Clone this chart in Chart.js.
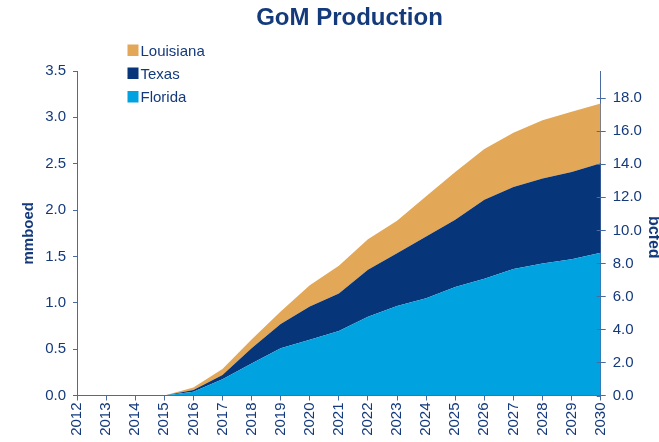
<!DOCTYPE html>
<html>
<head>
<meta charset="utf-8">
<title>GoM Production</title>
<script src="https://cdn.jsdelivr.net/npm/chart.js@4/dist/chart.umd.min.js"></script>
<style>
  html, body { margin: 0; padding: 0; background: #ffffff; }
  #wrap { position: relative; width: 659px; height: 442px; }
  canvas { display: block; }
</style>
</head>
<body>
<div id="wrap"><canvas id="chart" width="659" height="442"></canvas></div>
<script>
// Production outlook by source area, mmboed
const years = ['2012','2013','2014','2015','2016','2017','2018','2019','2020','2021',
               '2022','2023','2024','2025','2026','2027','2028','2029','2030'];
const florida   = [0, 0, 0, 0, 0.04, 0.175, 0.345, 0.51, 0.60, 0.695, 0.85, 0.965, 1.05, 1.17, 1.26, 1.365, 1.425, 1.47, 1.54];
const texas     = [0, 0, 0, 0, 0.02, 0.045, 0.165, 0.26, 0.36, 0.405, 0.505, 0.57, 0.665, 0.725, 0.85, 0.885, 0.915, 0.94, 0.965];
const louisiana = [0, 0, 0, 0, 0.025, 0.065, 0.095, 0.135, 0.23, 0.30, 0.33, 0.35, 0.435, 0.515, 0.55, 0.585, 0.63, 0.65, 0.645];

// Axis settings
const leftMax = 3.5;
const leftStep = 0.5;
const gasPerOil = 5.615;           // bcfed per mmboed
const rightStep = 2;
const rightLastTick = 18;

const NAVY = '#143a7c';
const AXIS = '#4a6aa2';
const COLORS = { Louisiana: '#e2a857', Texas: '#07357a', Florida: '#00a3e0' };
const FONT = '"Liberation Sans", Arial, Helvetica, sans-serif';

// Title, axis titles, legend and inner right-axis ticks
const decorations = {
  id: 'decorations',
  afterDraw(chart) {
    const ctx = chart.ctx;
    const area = chart.chartArea;
    ctx.save();

    ctx.fillStyle = NAVY;
    ctx.font = 'bold 24px ' + FONT;
    ctx.textAlign = 'center';
    ctx.textBaseline = 'alphabetic';
    ctx.fillText('GoM Production', 349.5, 25);

    const midY = (area.top + area.bottom) / 2;
    ctx.font = 'bold 15px ' + FONT;
    ctx.save();
    ctx.translate(29, midY);
    ctx.rotate(-Math.PI / 2);
    ctx.textAlign = 'center';
    ctx.textBaseline = 'middle';
    ctx.fillText('mmboed', 0, 0);
    ctx.restore();

    ctx.font = 'bold 16px ' + FONT;
    ctx.save();
    ctx.translate(648.5, midY + 4);
    ctx.rotate(Math.PI / 2);
    ctx.textAlign = 'center';
    ctx.textBaseline = 'alphabetic';
    ctx.fillText('bcfed', 0, 0);
    ctx.restore();

    // legend
    const items = [['Louisiana', 56], ['Texas', 79], ['Florida', 102.5]];
    ctx.font = '15px ' + FONT;
    ctx.textAlign = 'left';
    ctx.textBaseline = 'alphabetic';
    items.forEach(([name, base]) => {
      ctx.fillStyle = COLORS[name];
      ctx.fillRect(127.5, base - 11.5, 11, 11.5);
      ctx.fillStyle = NAVY;
      ctx.fillText(name, 140.5, base - 0.5);
    });

    // right axis ticks also reach into the plot
    const r = chart.scales.y2;
    ctx.strokeStyle = AXIS;
    ctx.lineWidth = 1;
    r.ticks.forEach(t => {
      const y = Math.round(r.getPixelForValue(t.value)) + 0.5;
      ctx.beginPath();
      ctx.moveTo(area.right - 4, y);
      ctx.lineTo(area.right, y);
      ctx.stroke();
    });
    ctx.restore();
  }
};

const series = [
  { label: 'Florida', data: florida, fill: 'origin' },
  { label: 'Texas', data: texas, fill: '-1' },
  { label: 'Louisiana', data: louisiana, fill: '-1' }
];

new Chart(document.getElementById('chart'), {
  type: 'line',
  data: {
    labels: years,
    datasets: series.map(s => ({
      label: s.label,
      data: s.data,
      fill: s.fill,
      backgroundColor: COLORS[s.label],
      borderColor: COLORS[s.label],
      borderWidth: 0,
      pointRadius: 0,
      tension: 0,
      yAxisID: 'y'
    }))
  },
  options: {
    responsive: false,
    animation: false,
    layout: { padding: { top: 71, left: 0, right: 0, bottom: 0 } },
    plugins: {
      legend: { display: false },
      title: { display: false },
      tooltip: { enabled: false }
    },
    scales: {
      x: {
        type: 'category',
        offset: false,
        grid: { drawOnChartArea: false, drawTicks: true, tickLength: 5, color: AXIS },
        border: { display: true, color: AXIS, width: 1 },
        ticks: {
          autoSkip: false, minRotation: 90, maxRotation: 90,
          color: NAVY, padding: 2, font: { family: FONT, size: 15 }
        },
        afterFit(s) { s.height = 46.5; }
      },
      y: {
        position: 'left',
        stacked: true,
        min: 0, max: leftMax,
        grid: { drawOnChartArea: false, drawTicks: true, tickLength: 4, color: AXIS },
        border: { display: true, color: AXIS, width: 1 },
        ticks: {
          stepSize: leftStep, color: NAVY, padding: 7,
          font: { family: FONT, size: 15 },
          callback: v => Number(v).toFixed(1)
        },
        afterFit(s) { s.width = 77; }
      },
      y2: {
        position: 'right',
        display: true,
        min: 0, max: leftMax * gasPerOil,
        grid: { drawOnChartArea: false, drawTicks: true, tickLength: 5, color: AXIS },
        border: { display: true, color: AXIS, width: 1 },
        ticks: {
          stepSize: rightStep, color: NAVY, padding: 7,
          font: { family: FONT, size: 15 },
          callback: v => Number(v).toFixed(1)
        },
        afterBuildTicks(s) { s.ticks = s.ticks.filter(t => t.value <= rightLastTick + 1e-6); },
        afterFit(s) { s.width = 58.3; }
      }
    }
  },
  plugins: [decorations]
});
</script>
</body>
</html>
